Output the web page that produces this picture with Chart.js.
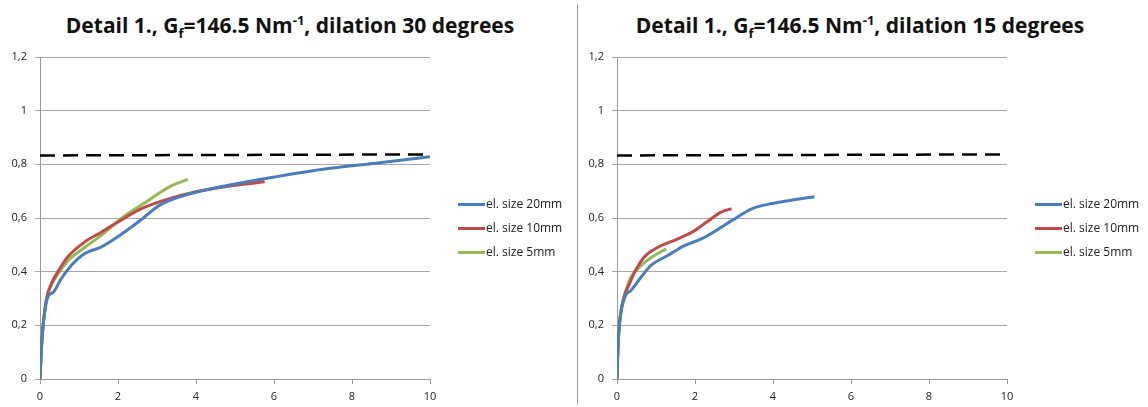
<!DOCTYPE html>
<html>
<head>
<meta charset="utf-8">
<script src="https://cdn.jsdelivr.net/npm/chart.js"></script>
<style>
  body { margin: 0; background: #fff; width: 1148px; height: 407px; overflow: hidden; position: relative; font-family: "Open Sans", sans-serif; }
  .title { position: absolute; top: 11px; width: 560px; text-align: center; font-weight: bold; font-size: 21px; color: #111; white-space: nowrap; }
  .title sub, .title sup { font-size: 13px; line-height: 0; }
  .box { position: absolute; }
  .sep { position: absolute; left: 577px; top: 4px; width: 1px; height: 400px; background: #9a9a9a; }
  .legend { position: absolute; font-size: 12px; color: #222; }
  .legend div { position: relative; height: 24px; line-height: 24px; padding-left: 28px; white-space: nowrap; }
  .legend span { position: absolute; left: 0; top: 11px; width: 27px; height: 3px; }
</style>
</head>
<body>
<div class="title" style="left:10px">Detail 1., G<sub>f</sub>=146.5 Nm<sup>-1</sup>, dilation 30 degrees</div>
<div class="title" style="left:580px">Detail 1., G<sub>f</sub>=146.5 Nm<sup>-1</sup>, dilation 15 degrees</div>
<div class="sep"></div>
<div class="box" style="left:0;top:40px;width:575px;height:367px"><canvas id="c30"></canvas></div>
<div class="box" style="left:577px;top:40px;width:571px;height:367px"><canvas id="c15"></canvas></div>
<div class="legend" id="leg30" style="left:458px;top:192px"></div>
<div class="legend" id="leg15" style="left:1035px;top:192px"></div>
<script>
// series labels and colours
const seriesNames = ['el. size 20mm', 'el. size 10mm', 'el. size 5mm'];
const seriesColors = ['#4a7ebb', '#be4b48', '#98b954'];

// reference level (dashed)
const refX = [0, 10];
const refY = [0.833, 0.837];

// dilation 30 degrees
const d30_20_x = [0, 0.03, 0.08, 0.2, 0.34, 0.54, 0.8, 1.14, 1.57, 2.04, 2.56, 3.07, 3.58, 4.86, 6.14, 7.43, 8.71, 10];
const d30_20_y = [0, 0.1, 0.2, 0.305, 0.323, 0.373, 0.423, 0.467, 0.492, 0.535, 0.59, 0.648, 0.679, 0.723, 0.756, 0.785, 0.806, 0.828];
const d30_10_x = [0, 0.03, 0.08, 0.17, 0.29, 0.46, 0.71, 1.14, 1.57, 2.0, 2.56, 3.15, 4.0, 4.86, 5.76];
const d30_10_y = [0, 0.1, 0.2, 0.3, 0.355, 0.4, 0.455, 0.51, 0.547, 0.585, 0.632, 0.665, 0.698, 0.719, 0.735];
const d30_5_x = [0, 0.03, 0.08, 0.17, 0.29, 0.46, 0.71, 1.14, 1.57, 2.1, 2.72, 3.32, 3.79];
const d30_5_y = [0, 0.1, 0.2, 0.3, 0.35, 0.39, 0.44, 0.49, 0.535, 0.6, 0.66, 0.716, 0.744];

// dilation 15 degrees
const d15_20_x = [0, 0.02, 0.06, 0.2, 0.36, 0.62, 0.87, 1.3, 1.73, 2.16, 2.67, 2.96, 3.47, 3.98, 4.5, 5.06];
const d15_20_y = [0, 0.1, 0.2, 0.305, 0.33, 0.38, 0.423, 0.46, 0.497, 0.522, 0.565, 0.592, 0.635, 0.654, 0.667, 0.679];
const d15_10_x = [0, 0.02, 0.06, 0.17, 0.32, 0.45, 0.7, 1.04, 1.56, 1.99, 2.3, 2.67, 2.94];
const d15_10_y = [0, 0.1, 0.2, 0.3, 0.355, 0.398, 0.455, 0.49, 0.522, 0.553, 0.585, 0.622, 0.635];
const d15_5_x = [0, 0.02, 0.06, 0.17, 0.25, 0.36, 0.62, 0.96, 1.26];
const d15_5_y = [0, 0.1, 0.2, 0.3, 0.34, 0.38, 0.423, 0.46, 0.485];

// axis ticks
const xMin = 0, xMax = 10, xStep = 2;
const yMin = 0, yMax = 1.2, yStep = 0.2;

function pts(xs, ys) {
  return xs.map((x, i) => ({ x: x, y: ys[i] }));
}

function makeChart(id, series, padRight) {
  const datasets = series.map((s, i) => ({
    label: seriesNames[i],
    data: pts(s[0], s[1]),
    borderColor: seriesColors[i],
    borderWidth: 3,
    pointRadius: 0,
    cubicInterpolationMode: 'monotone',
    fill: false
  }));
  datasets.push({
    label: 'ref',
    data: pts(refX, refY),
    borderColor: '#000',
    borderWidth: 2.5,
    borderDash: [15, 8],
    pointRadius: 0,
    fill: false
  });
  const tickFont = { family: 'Open Sans', size: 11 };
  return new Chart(document.getElementById(id), {
    type: 'line',
    data: { datasets: datasets },
    options: {
      responsive: true,
      maintainAspectRatio: false,
      animation: false,
      layout: { padding: { top: 17, right: padRight, left: 0, bottom: 0 } },
      plugins: { legend: { display: false }, tooltip: { enabled: false } },
      scales: {
        x: {
          type: 'linear',
          min: xMin, max: xMax,
          ticks: { stepSize: xStep, font: tickFont, color: '#222', padding: 6 },
          grid: { drawOnChartArea: false, drawTicks: true, tickLength: 5, color: '#999' },
          border: { color: '#999', width: 1 },
          afterFit: (s) => { s.height = 28; }
        },
        y: {
          min: yMin, max: yMax,
          ticks: {
            stepSize: yStep, font: tickFont, color: '#222', padding: 8,
            callback: (v) => String(Math.round(v * 10) / 10).replace('.', ',')
          },
          grid: { color: '#a6a6a6', tickLength: 5, lineWidth: 1 },
          border: { color: '#999', width: 1 },
          afterFit: (s) => { s.width = 40; }
        }
      }
    }
  });
}

function makeLegend(id) {
  const el = document.getElementById(id);
  seriesNames.forEach((n, i) => {
    const row = document.createElement('div');
    row.innerHTML = '<span style="background:' + seriesColors[i] + '"></span>' + n;
    el.appendChild(row);
  });
}

makeChart('c30', [[d30_20_x, d30_20_y], [d30_10_x, d30_10_y], [d30_5_x, d30_5_y]], 145);
makeChart('c15', [[d15_20_x, d15_20_y], [d15_10_x, d15_10_y], [d15_5_x, d15_5_y]], 141);
makeLegend('leg30');
makeLegend('leg15');
</script>
</body>
</html>
